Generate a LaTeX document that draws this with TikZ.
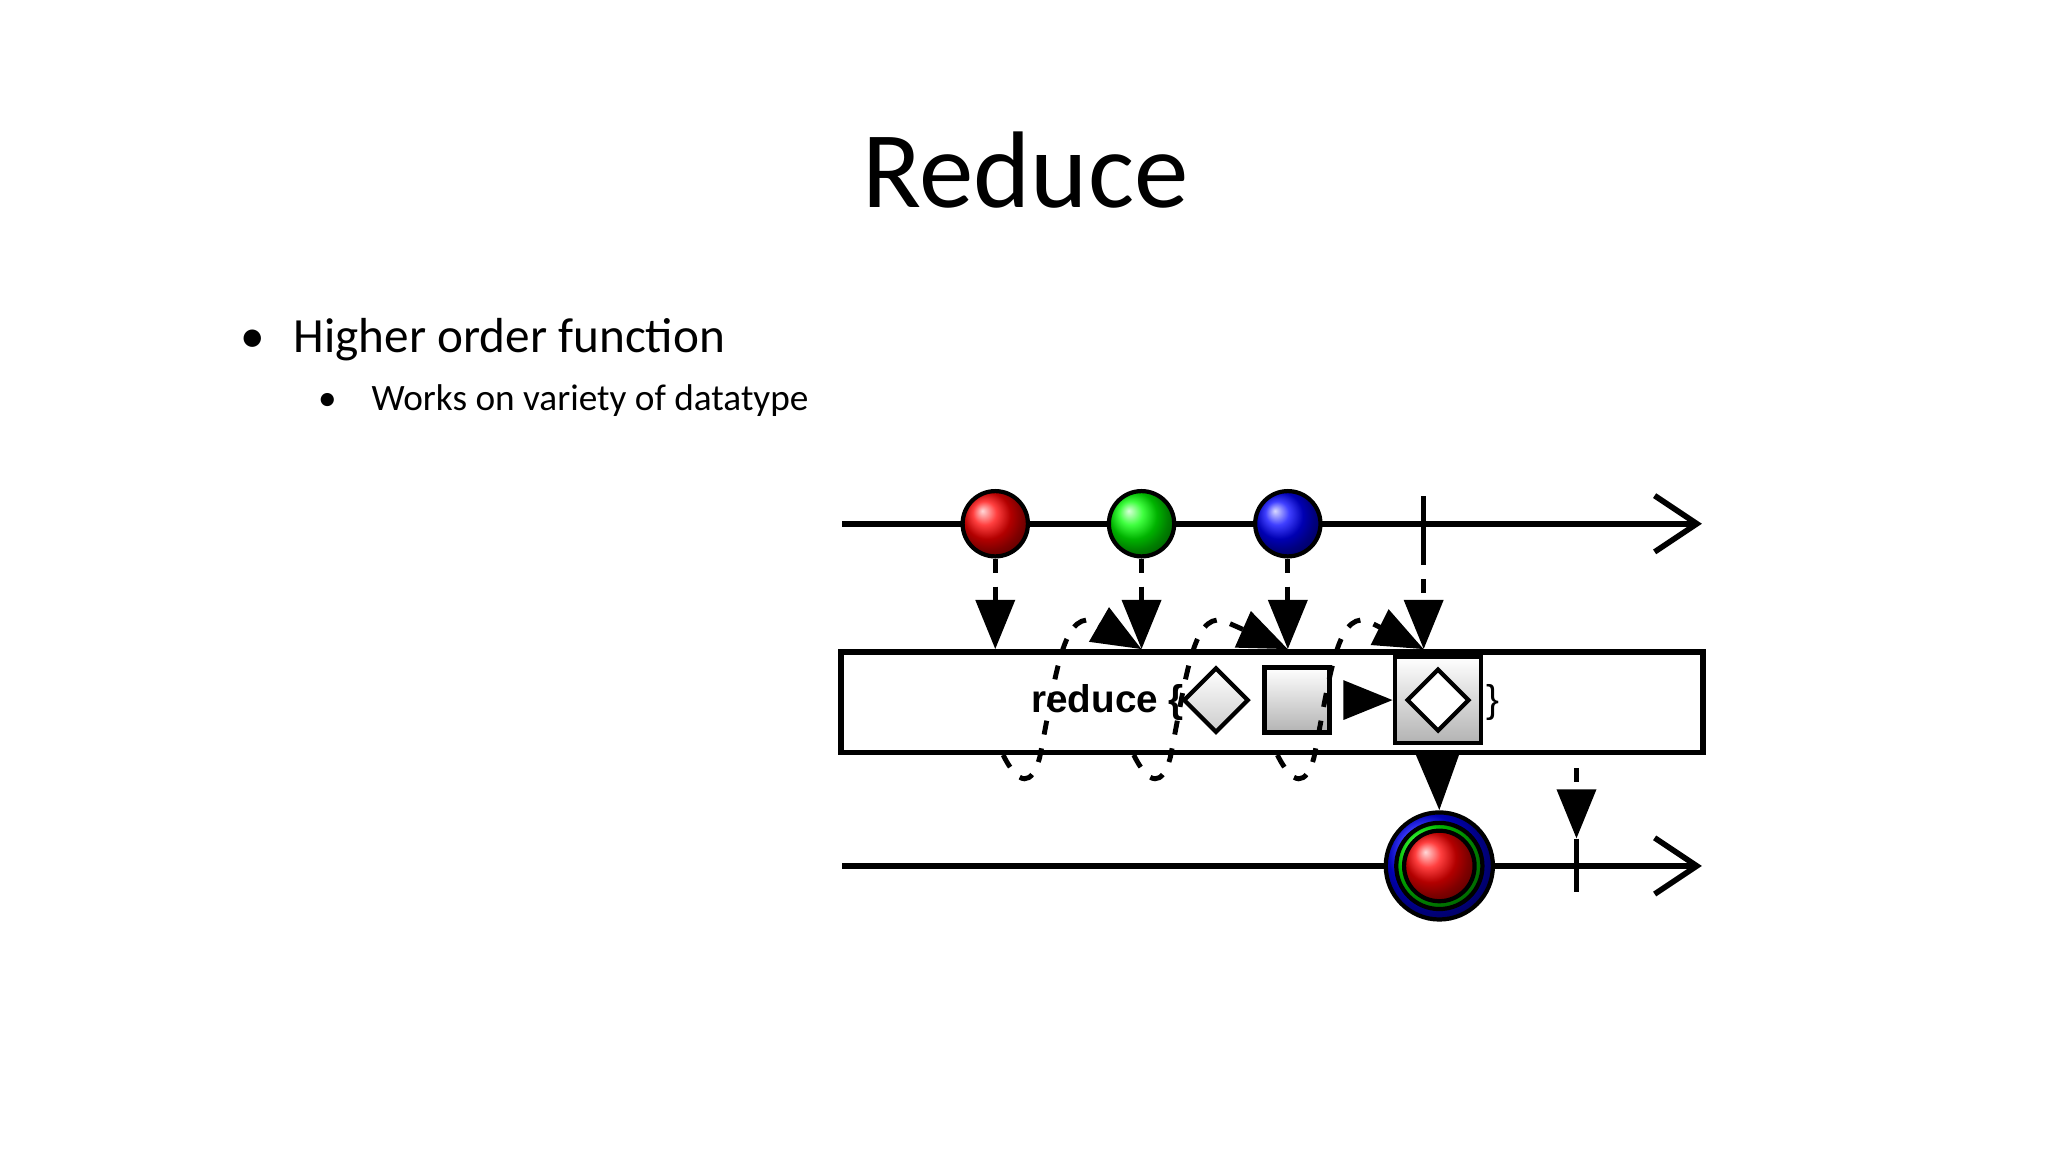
\documentclass[tikz,border=0pt]{standalone}
\usepackage{fontspec}
\setmainfont{Carlito}
\newfontfamily\helv{Liberation Sans}
\usetikzlibrary{arrows.meta,shapes.geometric}

\begin{document}
\begin{tikzpicture}[x=0.01306cm, y=-0.01306cm,
    axis/.style={line width=1.6pt, -{Straight Barb[length=12pt,width=16pt,line width=1.6pt]}},
    marble/.style={circle, draw, line width=1.2pt, minimum size=50*0.01306cm, inner sep=0pt},
    emit/.style={line width=1.4pt, dash pattern=on 4pt off 4pt, -{Triangle[length=14pt,width=11pt]}},
    loopy/.style={line width=1.4pt, dash pattern=on 4pt off 4pt, -{Triangle[length=14pt,width=11pt]}},
    tick/.style={line width=1.6pt}]

    \useasboundingbox (0,0) rectangle (1568,882);

    % slide text
    \node (title) at (785,130) {\fontsize{31}{36}\selectfont Reduce};
    \node[anchor=west] (b1) at (175,260) {\fontsize{14}{17}\selectfont\textbullet\hspace{8pt}Higher order function};
    \node[anchor=west] (b2) at (234,307) {\fontsize{10.6}{13}\selectfont\textbullet\hspace{10pt}Works on variety of datatype};

    % input stream
    \coordinate (in0) at (645,401);
    \coordinate (in1) at (1303,401);
    \draw[axis] (in0) -- (in1);
    \node[marble, ball color=red]   (red)   at (762,401) {};
    \node[marble, ball color=green] (green) at (874,401) {};
    \node[marble, ball color=blue]  (blue)  at (986,401) {};
    \coordinate (tk0) at (1090,380);
    \coordinate (tk1) at (1090,422);
    \draw[tick] (tk0) -- (tk1);

    % operator box
    \node[draw, line width=1.6pt, fill=white, minimum width=660*0.01306cm,
          minimum height=77*0.01306cm, inner sep=0pt] (box) at (974,537.5) {};
    \node[font=\helv\bfseries\fontsize{11}{13}\selectfont] (fn) at (848,538) {reduce \{};
    \node[diamond, draw, line width=1.2pt, inner sep=0pt, minimum width=50*0.01306cm,
          minimum height=50*0.01306cm, top color=white, bottom color=gray!40] (dia) at (931,536) {};
    \node[draw, line width=1.3pt, minimum size=50*0.01306cm, inner sep=0pt,
          top color=white, bottom color=gray!60] (sq) at (993,536) {};
    \node[draw, line width=1.3pt, minimum size=66*0.01306cm, inner sep=0pt,
          top color=white, bottom color=gray!60] (res) at (1101,536) {};
    \node[diamond, draw, line width=1.2pt, inner sep=0pt, minimum width=48*0.01306cm,
          minimum height=48*0.01306cm, fill=white] (dia2) at (1101,536) {};
    \node[font=\helv\fontsize{11}{13}\selectfont] (cb) at (1143,538) {\}};
    \draw[-{Triangle[length=14pt,width=11pt]}, line width=1.2pt] (sq.east) ++(16,0) coordinate (m0) (m0) -- (res.west);

    % emissions into the box
    \coordinate (t1) at (762,497);
    \coordinate (t2) at (874,497);
    \coordinate (t3) at (986,497);
    \coordinate (t4) at (1090,497);
    \draw[emit] (red.south) -- (t1);
    \draw[emit] (green.south) -- (t2);
    \draw[emit] (blue.south) -- (t3);
    \draw[emit] (tk1) -- (t4);

    % accumulator loops
    \foreach \a/\b in {768/t2, 868/t3, 978/t4}
        \draw[loopy] (\a,578) .. controls (\a+12,602) and (\a+22,602) .. (\a+28,580)
            .. controls (\a+40,520) and (\a+45,470) .. (\a+68,475) -- (\b);

    % output stream
    \coordinate (out0) at (645,663);
    \coordinate (out1) at (1303,663);
    \draw[axis] (out0) -- (out1);
    \node[circle, draw, line width=1.2pt, minimum size=82*0.01306cm, ball color=blue] (sum) at (1102,663) {};
    \node[circle, draw, line width=1.2pt, minimum size=66*0.01306cm, ball color=green] (sumg) at (1102,663) {};
    \node[circle, draw, line width=1.2pt, minimum size=54*0.01306cm, ball color=red] (sumr) at (1102,663) {};
    \coordinate (ot0) at (1207,642);
    \coordinate (ot1) at (1207,683);
    \draw[tick] (ot0) -- (ot1);
    \coordinate (os) at (1207,588);
    \draw[emit, line width=1.6pt, -{Triangle[length=16pt,width=12pt]}] (res.south) ++(0,16) coordinate (rs) (rs) -- (sum.north);
    \draw[emit] (os) -- (ot0);
\end{tikzpicture}
\end{document}
